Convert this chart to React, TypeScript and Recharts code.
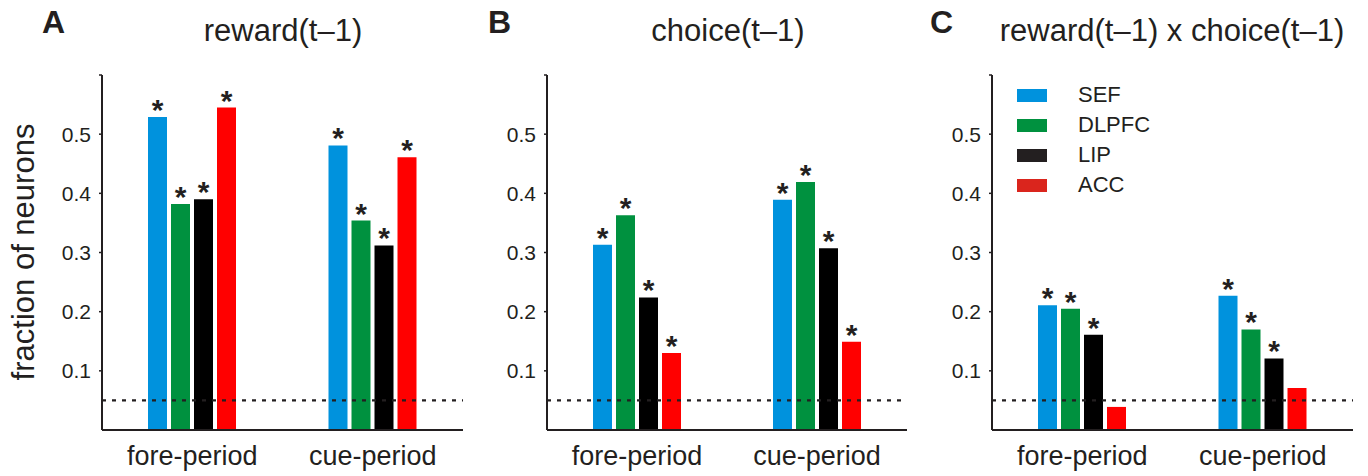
import React from 'react';
import {
  BarChart,
  Bar,
  XAxis,
  YAxis,
  ReferenceLine,
  LabelList,
  Legend,
} from 'recharts';

const categories = ['fore-period', 'cue-period'];
const areas = ['SEF', 'DLPFC', 'LIP', 'ACC'];
const yTicks = [0.1, 0.2, 0.3, 0.4, 0.5, 0.6];
const chance = 0.05;

// reward(t-1)
const rewardSEF = [0.529, 0.481];
const rewardDLPFC = [0.382, 0.354];
const rewardLIP = [0.39, 0.312];
const rewardACC = [0.545, 0.461];
const rewardSig = [[true, true], [true, true], [true, true], [true, true]];

// choice(t-1)
const choiceSEF = [0.313, 0.389];
const choiceDLPFC = [0.363, 0.419];
const choiceLIP = [0.224, 0.307];
const choiceACC = [0.13, 0.149];
const choiceSig = [[true, true], [true, true], [true, true], [true, true]];

// reward(t-1) x choice(t-1)
const interSEF = [0.211, 0.227];
const interDLPFC = [0.205, 0.17];
const interLIP = [0.161, 0.121];
const interACC = [0.039, 0.071];
const interSig = [[true, true], [true, true], [true, true], [false, false]];

const BAR_COLORS = ['#0092dd', '#00913f', '#000000', '#ff0000'];
const LEGEND_COLORS = ['#0092dd', '#00913f', '#231f20', '#da251d'];
const INK = '#231f20';
const FONT = '"Liberation Sans", Arial, Helvetica, sans-serif';

function buildRows(series: number[][], sig: boolean[][]) {
  return categories.map((name, i) => {
    const row: Record<string, string | number> = { name };
    areas.forEach((a, k) => {
      row[a] = series[k][i];
      row[a + '_star'] = sig[k][i] ? '*' : '';
    });
    return row;
  });
}

const rewardData = buildRows([rewardSEF, rewardDLPFC, rewardLIP, rewardACC], rewardSig);
const choiceData = buildRows([choiceSEF, choiceDLPFC, choiceLIP, choiceACC], choiceSig);
const interData = buildRows([interSEF, interDLPFC, interLIP, interACC], interSig);

const Star = (props: any) => {
  const vb = props.viewBox ?? props;
  if (!props.value) return null;
  return (
    <text
      x={vb.x + vb.width / 2}
      y={vb.y + 3}
      textAnchor="middle"
      fontSize={30}
      fontWeight="bold"
      fontFamily={FONT}
      fill={INK}
    >
      {props.value}
    </text>
  );
};

const LegendBox = () => (
  <div style={{ fontFamily: FONT }}>
    {areas.map((a, k) => (
      <div key={a} style={{ display: 'flex', alignItems: 'center', height: 30 }}>
        <div style={{ width: 30, height: 13, background: LEGEND_COLORS[k] }} />
        <span style={{ marginLeft: 31, fontSize: 22, color: INK }}>{a}</span>
      </div>
    ))}
  </div>
);

type PanelProps = {
  data: Record<string, string | number>[];
  left: number;
  width: number;
  axisWidth: number;
  rightMargin: number;
  legend?: boolean;
};

function Panel({ data, left, width, axisWidth, rightMargin, legend }: PanelProps) {
  return (
    <div style={{ position: 'absolute', left, top: 0 }}>
      <BarChart
        width={width}
        height={476}
        data={data}
        margin={{ top: 75, right: rightMargin, bottom: 0, left: 0 }}
        barSize={19}
        barGap={4}
      >
        <XAxis
          dataKey="name"
          height={46}
          tickLine={false}
          tickSize={0}
          tickMargin={16}
          axisLine={{ stroke: INK, strokeWidth: 2 }}
          tick={{ fontSize: 27, fill: INK, fontFamily: FONT }}
        />
        <YAxis
          width={axisWidth}
          domain={[0, 0.6]}
          ticks={yTicks}
          interval={0}
          tickSize={3}
          tickMargin={8}
          tickFormatter={(v: number) => (v >= 0.6 ? '' : v.toFixed(1))}
          axisLine={{ stroke: INK, strokeWidth: 2 }}
          tickLine={{ stroke: INK, strokeWidth: 1.5 }}
          tick={{ fontSize: 21, fill: INK, fontFamily: FONT }}
        />
        <ReferenceLine
          y={chance}
          stroke={INK}
          strokeWidth={2.2}
          strokeDasharray="4 6"
          ifOverflow="extendDomain"
        />
        {areas.map((a, k) => (
          <Bar key={a} dataKey={a} name={a} fill={BAR_COLORS[k]} isAnimationActive={false}>
            <LabelList dataKey={a + '_star'} content={Star} />
          </Bar>
        ))}
        {legend && (
          <Legend
            layout="vertical"
            align="center"
            verticalAlign="middle"
            wrapperStyle={{ left: 107, top: 80, width: 200 }}
            content={() => <LegendBox />}
          />
        )}
      </BarChart>
    </div>
  );
}

export default function App() {
  return (
    <div
      style={{
        position: 'absolute',
        left: 0,
        top: 0,
        width: 1368,
        height: 476,
        background: '#ffffff',
        overflow: 'hidden',
      }}
    >
      <Panel data={rewardData} left={0} width={470} axisWidth={102} rightMargin={7} />
      <Panel data={choiceData} left={460} width={460} axisWidth={87} rightMargin={13} />
      <Panel data={interData} left={910} width={458} axisWidth={82} rightMargin={15} legend />
      <svg
        width={1368}
        height={476}
        style={{ position: 'absolute', left: 0, top: 0, pointerEvents: 'none' }}
        fontFamily={FONT}
        fill={INK}
      >
        <text x={42} y={33} fontSize={32} fontWeight="bold">A</text>
        <text x={488} y={33} fontSize={32} fontWeight="bold">B</text>
        <text x={930} y={33} fontSize={32} fontWeight="bold">C</text>
        <text x={283} y={41} fontSize={31} textAnchor="middle">reward(t–1)</text>
        <text x={728} y={41} fontSize={31} textAnchor="middle">choice(t–1)</text>
        <text x={1172} y={41} fontSize={31} textAnchor="middle">reward(t–1) x choice(t–1)</text>
        <text
          x={34}
          y={252}
          fontSize={31}
          textAnchor="middle"
          transform="rotate(-90 34 252)"
        >
          fraction of neurons
        </text>
      </svg>
    </div>
  );
}
